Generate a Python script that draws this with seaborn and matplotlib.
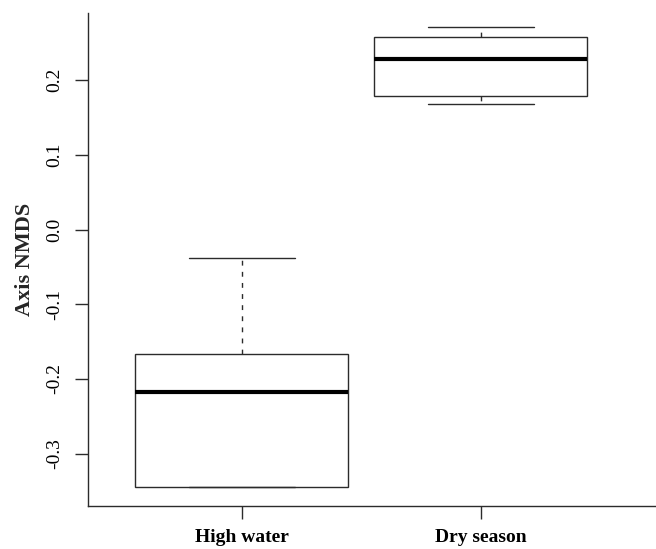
import numpy as np
import pandas as pd

import seaborn as sns
import matplotlib.pyplot as plt

sns.set_theme(style="ticks")
plt.rcParams['font.family'] = ['Liberation Serif', 'DejaVu Serif']
plt.rcParams['axes.unicode_minus'] = False

# NMDS axis scores (min, Q1, median, Q3, max per group)
seasons = ['High water', 'Dry season']
high_water = [-0.345, -0.344, -0.218, -0.1667, -0.0386]
dry_season = [0.168, 0.1787, 0.2278, 0.2577, 0.2707]
y_ticks = [-0.3, -0.2, -0.1, 0.0, 0.1, 0.2]

dane = pd.DataFrame({
    'season': [seasons[0]] * len(high_water) + [seasons[1]] * len(dry_season),
    'score': high_water + dry_season,
})

fig = plt.figure(figsize=(6.56, 5.49), dpi=100)
ax = fig.add_axes([87.5 / 656, 1 - 505.7 / 549, (656 - 87.5) / 656, (505.7 - 13) / 549])

line_col = '#2b2b2b'
sns.boxplot(data=dane, x='season', y='score', order=seasons, ax=ax,
            width=0.89, color='white', linecolor=line_col, linewidth=1.0,
            whis=1.5, showfliers=False, saturation=1,
            whiskerprops=dict(linestyle=(0, (3.5, 4.5)), color=line_col),
            medianprops=dict(color='black', linewidth=3),
            capprops=dict(color=line_col))

ax.set_xlim(-0.645, 1.733)
ax.set_ylim(-0.3697, 0.2898)
ax.set_yticks(y_ticks)
ax.set_yticklabels([f'{v:.1f}' for v in y_ticks])

sns.despine(ax=ax)
for s in ['left', 'bottom']:
    ax.spines[s].set_color(line_col)
    ax.spines[s].set_linewidth(1.0)

ax.tick_params(axis='both', length=9.5, width=1.0, color=line_col, labelcolor='black')
ax.tick_params(axis='y', labelsize=14, pad=8)
ax.tick_params(axis='x', labelsize=14, pad=7)
for t in ax.get_yticklabels():
    t.set_rotation(90)
    t.set_va('center')
for t in ax.get_xticklabels():
    t.set_fontweight('bold')

ax.set_xlabel('')
ax.set_ylabel('Axis NMDS', fontsize=16, fontweight='bold', labelpad=8)

fig.savefig('out.png', dpi=100)
